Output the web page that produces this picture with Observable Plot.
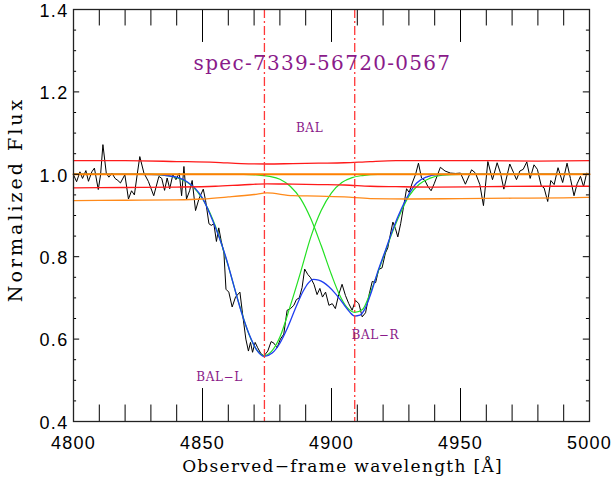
<!DOCTYPE html>
<html>
<head>
<meta charset="utf-8">
<script src="https://cdn.jsdelivr.net/npm/d3@7"></script>
<script src="https://cdn.jsdelivr.net/npm/@observablehq/plot@0.6"></script>
<style>
  html, body { margin: 0; padding: 0; background: #fff; }
</style>
</head>
<body>
<div id="chart"></div>
<script>
// ---------- data ----------
const specLam = [4800.0,4801.2,4802.5,4803.5,4804.8,4805.8,4807.1,4808.1,4809.6,4810.5,4811.4,4812.7,4813.7,4814.9,4816.1,4817.2,4818.2,4819.9,4821.3,4822.5,4823.6,4824.7,4825.7,4827.3,4829.0,4831.1,4833.1,4834.2,4835.3,4836.3,4837.3,4838.5,4839.7,4841.0,4841.9,4842.8,4843.8,4845.0,4846.0,4847.3,4848.6,4850.3,4851.2,4852.5,4853.4,4854.4,4855.4,4856.3,4857.2,4858.3,4859.1,4860.2,4861.5,4862.8,4864.5,4865.6,4866.8,4867.8,4868.6,4869.4,4870.4,4871.4,4872.6,4873.8,4875.3,4876.6,4877.7,4878.9,4880.2,4881.5,4882.8,4884.1,4885.4,4886.4,4887.5,4888.6,4889.6,4890.8,4891.9,4893.2,4894.4,4895.5,4896.5,4897.7,4899.0,4900.3,4901.5,4902.8,4904.1,4905.4,4906.7,4908.0,4909.3,4910.6,4911.9,4913.2,4914.5,4915.8,4917.1,4918.3,4919.6,4920.9,4921.8,4923.0,4923.8,4924.8,4925.7,4926.8,4928.0,4929.1,4930.1,4931.3,4932.6,4933.7,4934.9,4936.2,4937.4,4938.6,4939.8,4942.2,4944.0,4946.1,4948.1,4950.0,4951.9,4954.3,4955.8,4957.5,4958.9,4960.6,4962.4,4964.2,4965.5,4966.8,4969.1,4970.5,4971.7,4973.0,4974.3,4975.7,4977.0,4978.5,4979.8,4981.3,4982.4,4983.8,4985.0,4986.3,4987.8,4989.6,4991.3,4992.6,4994.0,4995.2,4996.5,4997.7,4998.9,5000.0];
const specFlux = [0.999,0.982,1.006,0.990,1.009,0.983,1.006,1.015,0.963,0.999,1.072,1.003,0.993,1.003,0.990,0.985,0.979,0.999,0.940,0.960,0.950,1.000,1.043,1.003,0.983,0.948,0.995,0.990,0.961,0.991,0.965,0.999,0.987,1.003,0.948,1.019,0.940,0.960,0.985,0.912,0.940,0.964,0.936,0.880,0.876,0.880,0.837,0.870,0.840,0.809,0.721,0.714,0.678,0.702,0.714,0.658,0.600,0.571,0.592,0.568,0.592,0.579,0.565,0.559,0.571,0.594,0.590,0.579,0.600,0.612,0.670,0.674,0.682,0.696,0.700,0.725,0.770,0.757,0.749,0.733,0.708,0.723,0.702,0.714,0.682,0.686,0.674,0.708,0.733,0.706,0.686,0.670,0.694,0.686,0.654,0.664,0.706,0.740,0.737,0.769,0.773,0.809,0.821,0.860,0.884,0.868,0.848,0.880,0.924,0.965,0.956,0.979,1.000,1.027,0.991,0.985,0.970,0.960,0.977,1.017,1.008,1.003,1.002,1.003,0.976,1.011,1.003,0.975,0.924,1.031,0.987,1.028,1.003,0.964,1.025,1.005,0.987,1.008,1.012,1.030,0.990,1.023,1.012,0.972,0.967,0.934,0.985,0.975,1.016,0.980,1.027,0.990,0.948,0.977,0.995,0.970,1.003,1.000];

const fitLam  = [4800,4826,4832,4836,4840,4844,4847,4850,4853,4856,4859,4862,4865,4868,4871,4874,4877,4880,4883,4886,4889,4891,4893,4895,4897,4899,4901,4903,4905,4907,4909,4911,4913,4915.5,4918,4921,4924,4927,4930,4933,4937,4941,4946,5000];
const fitFlux = [1.000,1.000,0.999,0.997,0.993,0.982,0.967,0.942,0.902,0.855,0.800,0.733,0.667,0.613,0.574,0.558,0.566,0.590,0.628,0.674,0.716,0.736,0.745,0.743,0.737,0.727,0.714,0.699,0.682,0.666,0.656,0.658,0.674,0.715,0.765,0.817,0.870,0.915,0.952,0.979,0.994,0.999,1.000,1.000];

const balLLam  = [4800,4830,4836,4840,4844,4848,4852,4856,4860,4864,4868,4871,4874,4877,4880,4884,4888,4892,4896,4900,4904,4908,4912,4918,5000];
const balLFlux = [1.000,1.000,0.997,0.992,0.981,0.958,0.918,0.857,0.777,0.689,0.612,0.574,0.560,0.572,0.605,0.680,0.762,0.848,0.912,0.955,0.980,0.992,0.997,1.000,1.000];

const balRLam  = [4800,4866,4872,4876,4880,4884,4888,4892,4896,4900,4903,4906,4909,4912,4915,4918,4921,4924,4927,4930,4934,4938,4943,4950,5000];
const balRFlux = [1.000,1.000,0.998,0.995,0.988,0.971,0.941,0.892,0.827,0.756,0.709,0.677,0.665,0.672,0.712,0.762,0.815,0.866,0.910,0.947,0.976,0.990,0.998,1.000,1.000];

const errLam   = [4800,4820,4840,4855,4865,4875,4885,4895,4905,4915,4925,4940,4960,4980,5000];
const errUpper = [1.033,1.033,1.031,1.029,1.026,1.025,1.026,1.027,1.028,1.031,1.033,1.033,1.033,1.032,1.033];
const errLower = [0.967,0.968,0.969,0.971,0.974,0.977,0.976,0.975,0.974,0.971,0.970,0.969,0.970,0.971,0.971];

const lowLam  = [4800,4820,4840,4850,4860,4870,4875,4885,4895,4905,4915,4930,4950,4970,4990,5000];
const lowFlux = [0.936,0.937,0.938,0.940,0.945,0.951,0.955,0.948,0.947,0.945,0.941,0.940,0.941,0.942,0.943,0.944];

const continuumLam  = [4800, 5000];
const continuumFlux = [1.0, 1.0];

const balCenters = [4874, 4909];

const xMajor = [4800, 4850, 4900, 4950, 5000];
const xMinor = [4810,4820,4830,4840,4860,4870,4880,4890,4910,4920,4930,4940,4960,4970,4980,4990];
const yMajor = [0.4, 0.6, 0.8, 1.0, 1.2, 1.4];
const yMinor = [0.45,0.5,0.55,0.65,0.7,0.75,0.85,0.9,0.95,1.05,1.1,1.15,1.25,1.3,1.35];

const titleText = "spec-7339-56720-0567";
const xTitle = "Observed\u2212frame wavelength [\u00C5]";
const yTitle = "Normalized Flux";
const annotations = [
  {label: "BAL",   lam: 4891.5, flux: 1.111},
  {label: "BAL\u2212R", lam: 4917.0, flux: 0.609},
  {label: "BAL\u2212L", lam: 4856.6, flux: 0.508}
];

// ---------- build ----------
const zip = (xs, ys) => xs.map((x, i) => ({x, y: ys[i]}));
const spec = zip(specLam, specFlux);
const fit = zip(fitLam, fitFlux);
const balL = zip(balLLam, balLFlux);
const balR = zip(balRLam, balRFlux);
const up = zip(errLam, errUpper);
const lo = zip(errLam, errLower);
const low = zip(lowLam, lowFlux);
const cont = zip(continuumLam, continuumFlux);

const xLo = 4800, xHi = 5000, yLo = 0.4, yHi = 1.4;
const xMajLen = 0.08 * (yHi - yLo), xMinLen = 0.04 * (yHi - yLo);
const yMajLen = 0.012 * (xHi - xLo), yMinLen = 0.006 * (xHi - xLo);

const purple = "#8a1a8a";
const serif = "DejaVu Serif";

const chart = Plot.plot({
  width: 612,
  height: 489,
  marginLeft: 73,
  marginRight: 23,
  marginTop: 9,
  marginBottom: 68,
  style: {fontFamily: "Liberation Sans", fontSize: "18px", color: "#000", background: "#fff"},
  x: {domain: [xLo, xHi], ticks: xMajor, tickSize: 0, tickPadding: 15, tickFormat: d => String(d), label: null},
  y: {domain: [yLo, yHi], axis: null},
  marks: [
    Plot.line(spec, {x: "x", y: "y", stroke: "#000", strokeWidth: 1}),
    Plot.line(balL, {x: "x", y: "y", stroke: "#22e022", strokeWidth: 1.2, curve: "monotone-x"}),
    Plot.line(balR, {x: "x", y: "y", stroke: "#22e022", strokeWidth: 1.2, curve: "monotone-x"}),
    Plot.line(fit, {x: "x", y: "y", stroke: "#1f3df0", strokeWidth: 1.3, curve: "monotone-x"}),
    Plot.line(up, {x: "x", y: "y", stroke: "#ff1a1a", strokeWidth: 1.3, curve: "monotone-x"}),
    Plot.line(lo, {x: "x", y: "y", stroke: "#ff1a1a", strokeWidth: 1.3, curve: "monotone-x"}),
    Plot.line(low, {x: "x", y: "y", stroke: "#ff8a1a", strokeWidth: 1.3, curve: "monotone-x"}),
    Plot.line(cont, {x: "x", y: "y", stroke: "#ff8000", strokeWidth: 2}),
    Plot.ruleX(balCenters, {x: d => d, stroke: "#ff3838", strokeWidth: 1.3, strokeDasharray: "9,3,2,3"}),
    // inward ticks (IDL style)
    Plot.ruleX(xMajor, {x: d => d, y1: yLo, y2: yLo + xMajLen, stroke: "#000"}),
    Plot.ruleX(xMinor, {x: d => d, y1: yLo, y2: yLo + xMinLen, stroke: "#000"}),
    Plot.ruleX(xMajor, {x: d => d, y1: yHi, y2: yHi - xMajLen, stroke: "#000"}),
    Plot.ruleX(xMinor, {x: d => d, y1: yHi, y2: yHi - xMinLen, stroke: "#000"}),
    Plot.ruleY(yMajor, {y: d => d, x1: xLo, x2: xLo + yMajLen, stroke: "#000"}),
    Plot.ruleY(yMinor, {y: d => d, x1: xLo, x2: xLo + yMinLen, stroke: "#000"}),
    Plot.ruleY(yMajor, {y: d => d, x1: xHi, x2: xHi - yMajLen, stroke: "#000"}),
    Plot.ruleY(yMinor, {y: d => d, x1: xHi, x2: xHi - yMinLen, stroke: "#000"}),
    Plot.frame({stroke: "#222", strokeWidth: 1.3}),
    // y tick labels
    Plot.text(yMajor, {x: xLo, y: d => d, text: d => d.toFixed(1), textAnchor: "end", dx: -5, dy: 1.5, fill: "#000", fontSize: 18}),
    // texts
    Plot.text([titleText], {x: 4896.5, y: 1.268, text: d => d, fill: purple, fontFamily: serif, fontSize: 20}),
    Plot.text(annotations, {x: "lam", y: "flux", text: "label", fill: purple, fontFamily: serif, fontSize: 12}),
    Plot.text([xTitle], {frameAnchor: "bottom", textAnchor: "middle", dx: 11, dy: 50, text: d => d, fill: "#000", fontFamily: serif, fontSize: 17}),
    Plot.text([yTitle], {frameAnchor: "left", textAnchor: "middle", dx: -58, dy: -16, rotate: -90, text: d => d, fill: "#000", fontFamily: serif, fontSize: 19})
  ]
});
chart.style.letterSpacing = "1.3px";
const sel = d3.select(chart).selectAll("text");
sel.filter(function () { return /^BAL/.test(this.textContent); }).style("letter-spacing", "0.6px");
sel.filter(function () { return this.textContent === yTitle; }).style("letter-spacing", "3px");
document.getElementById("chart").appendChild(chart);
</script>
</body>
</html>
